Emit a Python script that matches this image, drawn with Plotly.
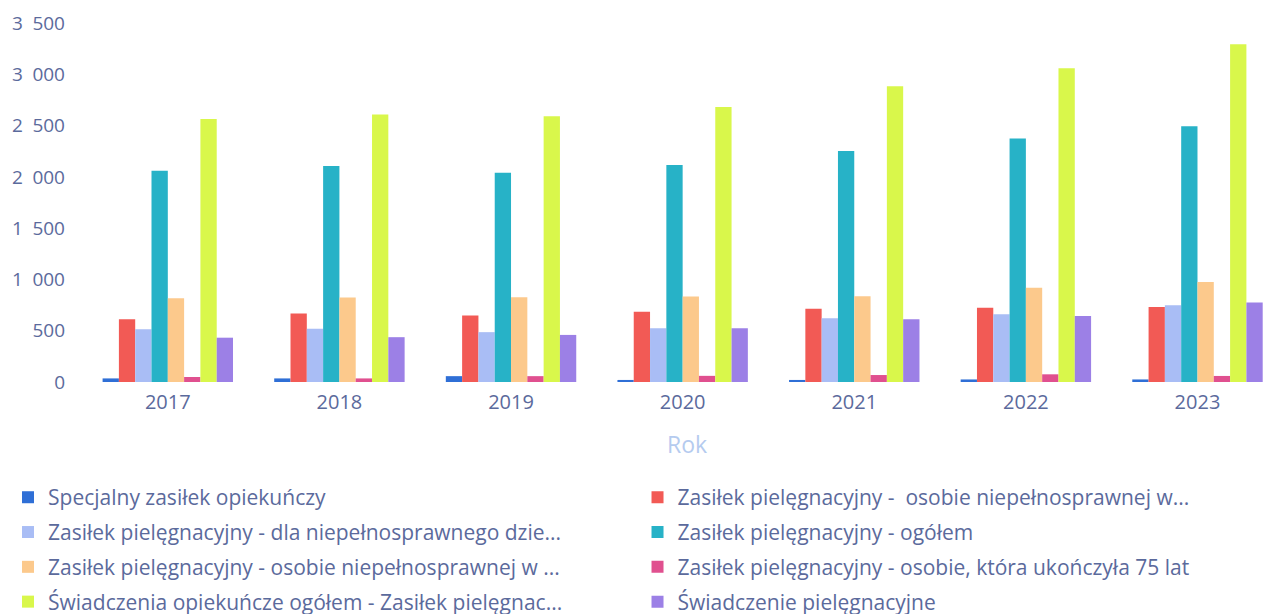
import plotly.graph_objects as go

years = ["2017", "2018", "2019", "2020", "2021", "2022", "2023"]

specjalny = [35, 35, 57, 20, 20, 25, 25]
zp_niepelnospr_w = [612, 667, 649, 686, 715, 725, 732]
zp_dla_dziecka = [514, 519, 486, 524, 621, 660, 748]
zp_ogolem = [2059, 2105, 2041, 2115, 2252, 2373, 2493]
zp_niepelnospr_w2 = [817, 824, 827, 834, 837, 919, 976]
zp_75_lat = [49, 35, 57, 60, 68, 75, 59]
swiadczenia_ogolem = [2563, 2607, 2590, 2681, 2883, 3058, 3293]
swiadczenie_piel = [432, 437, 459, 524, 611, 644, 776]

y_tick_vals = [0, 500, 1000, 1500, 2000, 2500, 3000, 3500]
y_tick_text = ["0", "500", "1\u2002000", "1\u2002500", "2\u2002000", "2\u2002500", "3\u2002000", "3\u2002500"]

series = [
    ("Specjalny zasiłek opiekuńczy", specjalny, "#2f6fd6", "legend"),
    ("Zasiłek pielęgnacyjny -  osobie niepełnosprawnej w...", zp_niepelnospr_w, "#f25a55", "legend2"),
    ("Zasiłek pielęgnacyjny - dla niepełnosprawnego dzie...", zp_dla_dziecka, "#a9bdf5", "legend"),
    ("Zasiłek pielęgnacyjny - ogółem", zp_ogolem, "#27b2c7", "legend2"),
    ("Zasiłek pielęgnacyjny - osobie niepełnosprawnej w ...", zp_niepelnospr_w2, "#fcc98c", "legend"),
    ("Zasiłek pielęgnacyjny - osobie, która ukończyła 75 lat", zp_75_lat, "#e0508f", "legend2"),
    ("Świadczenia opiekuńcze ogółem - Zasiłek pielęgnac...", swiadczenia_ogolem, "#d9f74b", "legend"),
    ("Świadczenie pielęgnacyjne", swiadczenie_piel, "#9c80e6", "legend2"),
]

fig = go.Figure()
for i, (name, vals, col, lg) in enumerate(series):
    fig.add_trace(go.Bar(x=years, y=vals, name=name, marker_color=col, marker_line_width=0,
                         legend=lg, legendgroup="g%d" % i))

txt = "#5b6a9c"
leg_common = dict(orientation="v", xref="container", yref="container", yanchor="top",
                  xanchor="left", font=dict(size=21, color=txt), tracegroupgap=4.5,
                  bgcolor="rgba(0,0,0,0)")
fig.update_layout(
    width=1273, height=614,
    paper_bgcolor="white", plot_bgcolor="white",
    font=dict(family="Open Sans", size=19, color=txt),
    margin=dict(l=82, r=0, t=23, b=232, autoexpand=False),
    barmode="group", bargap=0.24, bargroupgap=0,
    showlegend=True,
    legend=dict(x=0.0063, y=0.223, **leg_common),
    legend2=dict(x=0.5008, y=0.223, **leg_common),
    xaxis=dict(range=[-0.5, 6.44], showgrid=False, zeroline=False, showline=False,
               ticks="", tickfont=dict(size=20, color=txt), ticklabelstandoff=6),
    yaxis=dict(range=[0, 3500], tickvals=y_tick_vals, ticktext=y_tick_text,
               showgrid=False, zeroline=False, showline=False,
               tickfont=dict(size=19, color=txt), ticklabelstandoff=16),
    annotations=[dict(text="Rok", xref="paper", yref="paper", x=0.508, y=-0.1715,
                      xanchor="center", yanchor="middle", showarrow=False,
                      font=dict(size=23, color="#b5cbef"))],
)

fig.write_html("out.html", post_script="document.body.style.margin='0';",
               config={"displayModeBar": False})
